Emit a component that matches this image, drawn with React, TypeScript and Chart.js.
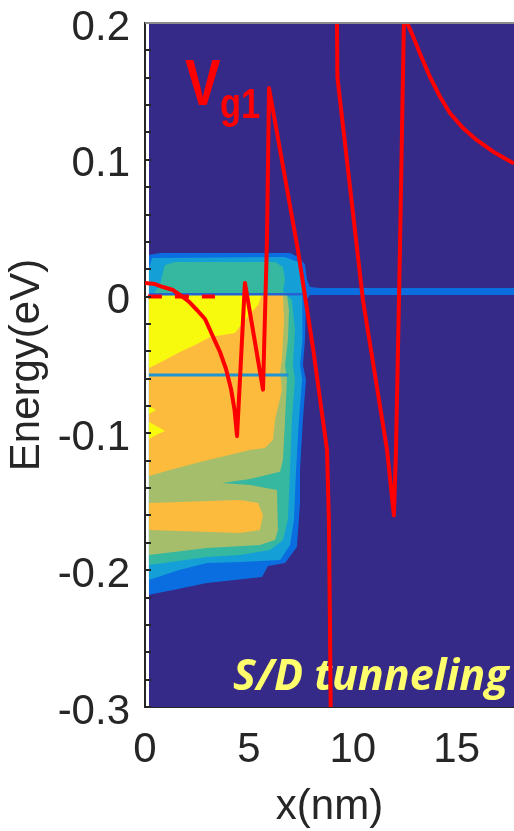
import React, { useEffect, useRef } from 'react';
import { Chart, registerables } from 'chart.js';

Chart.register(...registerables);

type Pt = [number, number];

// ---- axes ----
const xAxisRange: number[] = [0, 17.76];
const energyAxisRange: number[] = [-0.3, 0.2];
const xTickStep = 5;
const energyTickStep = 0.02;

// ---- band edge (red) ----
const bandEdgeSource: Pt[] = [
  [0, 0.0099], [0.48, 0.0092], [0.87, 0.0070], [1.35, 0.0048], [1.68, 0.0012],
  [2.10, -0.0035], [2.50, -0.0098], [2.89, -0.0164], [3.13, -0.0244], [3.37, -0.0325],
  [3.61, -0.0405], [3.90, -0.0529], [4.14, -0.0675], [4.31, -0.0829], [4.43, -0.102],
  [4.81, 0.010], [5.68, -0.068], [5.87, 0.041], [5.97, 0.1525], [7.36, 0.034],
  [8.10, -0.039], [8.76, -0.112], [8.85, -0.163], [8.90, -0.236], [8.95, -0.32],
];
const bandEdgeChannel: Pt[] = [
  [9.23, 0.23], [9.24, 0.2], [9.26, 0.1605], [10.49, -0.0025], [11.65, -0.112],
  [11.98, -0.16], [12.08, -0.112], [12.27, 0.034], [12.46, 0.2], [12.54, 0.235],
  [12.59, 0.201], [12.91, 0.190], [13.23, 0.1778], [13.71, 0.1607], [14.20, 0.1461],
  [14.68, 0.1340], [15.32, 0.1230], [15.96, 0.1145], [16.76, 0.1059], [17.76, 0.0973],
];
const fermiLevelSource: Pt[] = [[0.14, 0], [3.37, 0]];

// ---- current spectrum contour levels ----
const contourBlue: Pt[] = [
  [0.19, 0.0304], [0.72, 0.0319], [6.98, 0.0319], [7.46, 0.0282], [7.70, 0.0231],
  [7.80, 0.0121], [7.94, 0.0070], [8.42, 0.0063], [17.76, 0.0063], [17.76, 0.0012],
  [7.94, 0.0012], [7.75, -0.0025], [7.70, -0.0317], [7.60, -0.050], [7.75, -0.061],
  [7.60, -0.090], [7.46, -0.127], [7.46, -0.151], [7.31, -0.183], [6.74, -0.1947],
  [5.92, -0.197], [5.63, -0.205], [2.98, -0.2094], [1.35, -0.2145], [0.19, -0.218],
];
const contourLightBlue: Pt[] = [
  [0.34, 0.0282], [6.74, 0.029], [7.36, 0.0253], [7.56, 0.018], [7.56, 0.0085],
  [7.60, -0.0025], [7.56, -0.0317], [7.46, -0.050], [7.56, -0.061], [7.41, -0.090],
  [7.27, -0.127], [7.17, -0.163], [6.98, -0.1816], [6.50, -0.1925], [4.57, -0.194],
  [2.98, -0.1947], [1.6, -0.200], [0.19, -0.2072], [0.19, 0.020],
];
const contourTeal: Pt[] = [
  [0.96, 0.0231], [1.44, 0.0253], [6.26, 0.0253], [6.64, 0.0216], [6.74, 0.0121],
  [6.64, 0.0041], [7.07, -0.0025], [7.22, -0.0244], [7.12, -0.050], [7.22, -0.061],
  [7.07, -0.090], [6.98, -0.127], [6.88, -0.163], [6.64, -0.178], [6.02, -0.1852],
  [4.57, -0.1889], [2.98, -0.1903], [0.19, -0.1962], [0.19, 0.0], [0.48, 0.0034],
  [0.72, 0.0085], [0.87, 0.018],
];
const contourOlive: Pt[] = [
  [0.19, 0.0015], [6.83, 0.0015], [6.93, -0.0098], [6.88, -0.0317], [6.74, -0.050],
  [6.83, -0.061], [6.74, -0.090], [6.64, -0.1194], [6.50, -0.128], [5.05, -0.1333],
  [3.71, -0.1363], [5.05, -0.1377], [6.35, -0.1414], [6.40, -0.1706], [6.26, -0.178],
  [5.53, -0.1816], [2.98, -0.1838], [0.19, -0.1889],
];
const contourOrange: Pt[] = [
  [0.19, 0.0015], [6.64, 0.0015], [6.69, -0.0171], [6.59, -0.0463], [6.50, -0.0551],
  [6.59, -0.0683], [6.26, -0.090], [6.16, -0.1048], [5.77, -0.1107], [5.05, -0.1121],
  [2.65, -0.1209], [1.20, -0.1268], [0.19, -0.1311],
];
const contourOrangeLower: Pt[] = [
  [0.19, -0.1509], [4.57, -0.1487], [5.44, -0.1509], [5.68, -0.1597], [5.53, -0.1706],
  [4.57, -0.1728], [0.19, -0.1706],
];
const contourYellow: Pt[] = [
  [0.19, 0.0015], [5.63, 0.0015], [5.44, -0.0061], [4.81, -0.0171], [4.33, -0.0266],
  [3.13, -0.0295], [2.41, -0.0354], [1.68, -0.0405], [0.96, -0.0463], [0.19, -0.0522],
];
const contourYellowSpotA: Pt[] = [[0.19, -0.080], [0.53, -0.0829], [0.19, -0.0858]];
const contourYellowSpotB: Pt[] = [
  [0.19, -0.0917], [0.72, -0.0961], [0.96, -0.0982], [0.63, -0.1004], [0.19, -0.1041],
];
const ridgeUpper: Pt[] = [[0.19, 0.0017], [7.7, 0.0017]];
const ridgeLower: Pt[] = [[0.19, -0.0573], [6.9, -0.0573]];

const AXIS_FONT = '"Liberation Sans", Arial, sans-serif';
const INK = '#262626';

const decorPlugin = {
  id: 'decor',
  beforeDatasetsDraw(chart: any) {
    const { ctx, chartArea: a, scales } = chart;
    const sx = scales.x, sy = scales.y;
    ctx.save();
    ctx.fillStyle = '#352a87';
    ctx.fillRect(a.left + 4, a.top, a.right - a.left - 4, a.bottom - a.top);
    ctx.textBaseline = 'alphabetic';
    ctx.textAlign = 'left';
    ctx.fillStyle = '#ffff6e';
    ctx.font = 'italic bold 43px "Open Sans", sans-serif';
    ctx.fillText('S/D tunneling', sx.getPixelForValue(4.24), sy.getPixelForValue(-0.2876));
    ctx.fillStyle = '#ff0000';
    const narrow = (text: string, font: string, x: number, y: number) => {
      ctx.save();
      ctx.translate(x, y);
      ctx.scale(0.82, 1);
      ctx.font = font;
      ctx.fillText(text, 0, 0);
      ctx.restore();
    };
    narrow('V', 'bold 65px "Liberation Sans", sans-serif', sx.getPixelForValue(1.925), sy.getPixelForValue(0.1401));
    narrow('g1', 'bold 42px "Liberation Sans", sans-serif', sx.getPixelForValue(3.61), sy.getPixelForValue(0.1306));
    ctx.restore();
  },
  afterDatasetsDraw(chart: any) {
    const { ctx, chartArea: a, scales } = chart;
    const sy = scales.y;
    ctx.save();
    ctx.strokeStyle = INK;
    ctx.lineWidth = 2;
    ctx.beginPath();
    sy.ticks.forEach((t: any) => {
      const py = Math.round(sy.getPixelForValue(t.value));
      ctx.moveTo(a.left, py);
      ctx.lineTo(a.left + 6, py);
    });
    ctx.stroke();
    ctx.strokeStyle = '#8c8c8c';
    ctx.beginPath();
    ctx.moveTo(a.left, a.top);
    ctx.lineTo(a.right, a.top);
    ctx.stroke();
    ctx.restore();
  },
};

export default function App() {
  const ref = useRef<HTMLCanvasElement>(null);
  useEffect(() => {
    const canvas = ref.current!;
    const toXY = (pts: Pt[]) => pts.map(([x, y]) => ({ x, y }));
    const region = (pts: Pt[], color: string, order: number) => ({
      data: toXY(pts), showLine: true, fill: 'shape', backgroundColor: color,
      borderWidth: 0, pointRadius: 0, order,
    });
    const curve = (pts: Pt[], color: string, width: number, order: number, dash: number[] = []) => ({
      data: toXY(pts), showLine: true, fill: false, borderColor: color, borderWidth: width,
      borderDash: dash, pointRadius: 0, order, tension: 0, borderJoinStyle: 'round',
    });
    const chart = new Chart(canvas, {
      type: 'scatter',
      data: {
        datasets: [
          curve(bandEdgeSource, '#ff0000', 4, 0),
          curve(bandEdgeChannel, '#ff0000', 4, 0),
          curve(fermiLevelSource, '#ff0000', 4, 0, [14, 13]),
          curve(ridgeUpper, '#2462d6', 2.5, 1),
          curve(ridgeLower, '#1e94d2', 3, 1),
          region(contourYellowSpotA, '#f8fa0d', 2),
          region(contourYellowSpotB, '#f8fa0d', 2),
          region(contourYellow, '#f8fa0d', 2),
          region(contourOrangeLower, '#fcbb3d', 3),
          region(contourOrange, '#fcbb3d', 3),
          region(contourOlive, '#a5be6b', 4),
          region(contourTeal, '#35b89f', 5),
          region(contourLightBlue, '#14a0d6', 6),
          region(contourBlue, '#0a6ee0', 7),
        ] as any,
      },
      options: {
        animation: false,
        responsive: false,
        devicePixelRatio: 1,
        events: [],
        layout: { padding: { top: 23, right: 0, bottom: 0, left: 0 } },
        plugins: { legend: { display: false }, tooltip: { enabled: false } },
        scales: {
          x: {
            type: 'linear',
            min: xAxisRange[0],
            max: xAxisRange[1],
            ticks: {
              stepSize: xTickStep, includeBounds: false, autoSkip: false, maxRotation: 0,
              padding: 18, color: INK, font: { family: AXIS_FONT, size: 42, lineHeight: 1.2 },
              callback: (v: any) => (Math.abs(Number(v) % xTickStep) < 1e-9 ? String(v) : ''),
            },
            grid: { display: false, drawTicks: false },
            border: { display: true, color: INK, width: 2 },
            title: {
              display: true, text: 'x(nm)', color: INK,
              font: { family: AXIS_FONT, size: 42, lineHeight: 1.12 }, padding: { top: 0, bottom: 0 },
            },
            afterFit: (s: any) => { s.height = 124; s.paddingLeft = 0; s.paddingRight = 0; },
          },
          y: {
            type: 'linear',
            min: energyAxisRange[0],
            max: energyAxisRange[1],
            ticks: {
              stepSize: energyTickStep, autoSkip: false, padding: 15, labelOffset: 5,
              color: INK, font: { family: AXIS_FONT, size: 42, lineHeight: 1 },
              callback: (v: any) => {
                const n = Math.round(Number(v) * 100);
                if (n % 10 !== 0) return '';
                const val = n / 100;
                return val === 0 ? '0' : val.toFixed(1);
              },
            },
            grid: { display: false, drawTicks: false },
            border: { display: true, color: INK, width: 2 },
            title: {
              display: true, text: 'Energy(eV)', color: INK,
              font: { family: AXIS_FONT, size: 42, lineHeight: 1.12 }, padding: { top: 4, bottom: 0 },
            },
            afterFit: (s: any) => { s.width = 145; s.paddingTop = 0; s.paddingBottom = 0; },
          },
        },
      } as any,
      plugins: [decorPlugin],
    });
    return () => chart.destroy();
  }, []);
  return (
    <div style={{ position: 'absolute', left: 0, top: 0, width: 514, height: 831, background: '#fff' }}>
      <canvas ref={ref} width={514} height={831} style={{ display: 'block', width: 514, height: 831 }} />
    </div>
  );
}
